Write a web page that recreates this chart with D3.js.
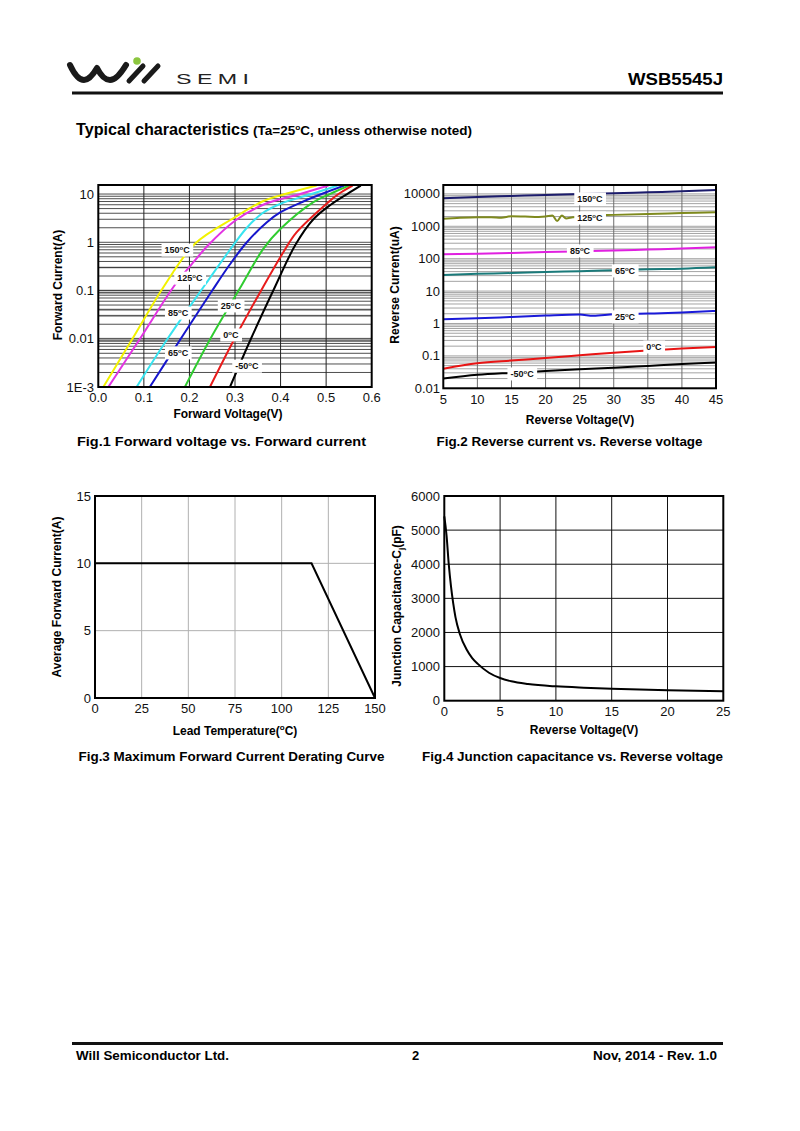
<!DOCTYPE html>
<html><head><meta charset="utf-8">
<script src="https://cdn.jsdelivr.net/npm/d3@7"></script>
<style>
body{margin:0;background:#fff;}
svg text{font-family:"Liberation Sans",Arial,Helvetica,sans-serif;}
</style></head><body>
<svg id="page" width="800" height="1131" xmlns="http://www.w3.org/2000/svg"></svg>
<script>
// ---------------- DATA ----------------
// Fig.1 Forward voltage (V) vs forward current (A)
const fwdLabels = ["150°C","125°C","85°C","65°C","25°C","0°C","-50°C"];
const fwdColors = ["#f2f200","#e234e2","#38e4f0","#1616cc","#30cc30","#e81c1c","#000000"];
const fwdV150 = [0.011,0.075,0.146,0.212,0.300,0.360,0.410,0.479];
const fwdI150 = [0.001,0.01,0.13,0.93,3.3,7.0,10,15];
const fwdV125 = [0.022,0.0915,0.168,0.212,0.240,0.300,0.362,0.443,0.505];
const fwdI125 = [0.001,0.01,0.13,0.42,0.85,2.8,6.0,10,15];
const fwdV85 = [0.084,0.152,0.234,0.289,0.326,0.360,0.400,0.468,0.525];
const fwdI85 = [0.001,0.01,0.13,0.7,2.0,4.0,6.3,10,15];
const fwdV65 = [0.113,0.181,0.250,0.289,0.326,0.370,0.400,0.450,0.490,0.540];
const fwdI65 = [0.001,0.01,0.1,0.35,1.0,2.6,4.2,7.0,10,15];
const fwdV25 = [0.190,0.246,0.315,0.362,0.400,0.472,0.508,0.550];
const fwdI25 = [0.001,0.01,0.13,0.73,1.9,6.8,10,15];
const fwdV0 = [0.245,0.299,0.362,0.406,0.435,0.505,0.527,0.558];
const fwdI0 = [0.001,0.01,0.12,0.62,1.6,6.8,10,15];
const fwdVm50 = [0.289,0.335,0.384,0.433,0.472,0.510,0.546,0.576];
const fwdIm50 = [0.001,0.01,0.1,0.9,3.0,6.0,10,15];
const fwdLabelV = [0.173,0.201,0.175,0.175,0.291,0.291,0.326];
const fwdLabelI = [0.69,0.18,0.034,0.0051,0.048,0.012,0.0027];
const fwdXTicks = [0.0,0.1,0.2,0.3,0.4,0.5,0.6];
const fwdXTickLabels = ["0.0","0.1","0.2","0.3","0.4","0.5","0.6"];
const fwdYTicks = [0.001,0.01,0.1,1,10];
const fwdYTickLabels = ["1E-3","0.01","0.1","1","10"];

// Fig.2 Reverse voltage (V) vs reverse current (uA)
const revLabels = ["150°C","125°C","85°C","65°C","25°C","0°C","-50°C"];
const revColors = ["#1c1c6c","#7f8a1e","#e020e0","#1a7a7a","#1a1ad8","#e81414","#000000"];
const revV = [5,10,15,20,25,30,35,40,45];
const revI150 = [7300,8000,8600,9300,9900,10400,11200,12000,13200];
const revV125 = [5,7,10,12,13.5,15,17,19,20,21,21.7,22.4,23,24,25,27,30,35,40,45];
const revI125 = [1700,1800,1900,1900,1850,2050,2000,1950,2000,2150,1450,2150,1750,1900,1950,2150,2250,2400,2550,2700];
const revI85 = [137,143,150,161,169,178,191,205,225];
const revI65 = [31.5,34,36,39,41,44,47,49,54];
const revV25 = [5,10,15,20,25,27,30,35,40,45];
const revI25 = [1.35,1.45,1.59,1.75,1.88,1.72,1.92,2.02,2.17,2.44];
const revI0 = [0.040,0.059,0.072,0.086,0.104,0.126,0.146,0.168,0.189];
const revIm50 = [0.020,0.026,0.030,0.034,0.039,0.043,0.049,0.056,0.062];
const revLabelV = [26.5,26.5,25.05,31.65,31.65,35.9,16.55];
const revLabelI = [7000,1800,174,42,1.6,0.188,0.0277];
const revXTicks = [5,10,15,20,25,30,35,40,45];
const revYTicks = [0.01,0.1,1,10,100,1000,10000];
const revYTickLabels = ["0.01","0.1","1","10","100","1000","10000"];

// Fig.3 Derating
const derT = [0,116,150];
const derI = [10,10,0];
const derXTicks = [0,25,50,75,100,125,150];
const derYTicks = [0,5,10,15];

// Fig.4 Junction capacitance
const capV = [0,0.2,0.4,0.6,0.8,1.0,1.4,2.0,2.5,3.0,4.0,5.0,6.0,7.5,10,12.5,15,20,25];
const capC = [5400,4850,4000,3350,2850,2450,1950,1500,1250,1080,820,665,570,490,420,380,350,305,275];
const capXTicks = [0,5,10,15,20,25];
const capYTicks = [0,1000,2000,3000,4000,5000,6000];

// ---------------- DRAW ----------------
const svg = d3.select("#page");
svg.append("rect").attr("width",800).attr("height",1131).attr("fill","#fff");

// Header
const logo = svg.append("g");
logo.append("path").attr("d","M70,65 Q77,80 84,80 Q90,80 97,68 Q103,80 110,80 Q117,80 126,65")
  .attr("fill","none").attr("stroke","#1a1a1a").attr("stroke-width",6).attr("stroke-linecap","round").attr("stroke-linejoin","round");
logo.append("line").attr("x1",129).attr("y1",81).attr("x2",143).attr("y2",66).attr("stroke","#1a1a1a").attr("stroke-width",5).attr("stroke-linecap","round");
logo.append("line").attr("x1",144).attr("y1",81).attr("x2",158).attr("y2",66).attr("stroke","#1a1a1a").attr("stroke-width",5).attr("stroke-linecap","round");
logo.append("circle").attr("cx",137).attr("cy",61).attr("r",3.8).attr("fill","#8cc63f");
svg.append("text").attr("transform","translate(176,84) scale(1.55,1)").attr("font-size",15).attr("fill","#222")
  .attr("letter-spacing",3.5).text("SEMI");
svg.append("text").attr("x",723).attr("y",85).attr("text-anchor","end").attr("font-size",17).attr("font-weight","bold")
  .attr("textLength",95).attr("lengthAdjust","spacingAndGlyphs").text("WSB5545J");
svg.append("rect").attr("x",72).attr("y",91.5).attr("width",651).attr("height",3).attr("fill","#111");

svg.append("text").attr("x",76).attr("y",135).attr("font-weight","bold").attr("font-size",16)
  .attr("textLength",173).attr("lengthAdjust","spacingAndGlyphs").text("Typical characteristics");
const tt = svg.append("text").attr("x",253).attr("y",135).attr("font-weight","bold").attr("font-size",13)
  .attr("textLength",219).attr("lengthAdjust","spacingAndGlyphs");
tt.append("tspan").text("(Ta=25");
tt.append("tspan").attr("font-size",8).attr("dy",-5).text("o");
tt.append("tspan").attr("dy",5).text("C, unless otherwise noted)");

// Footer
svg.append("rect").attr("x",72).attr("y",1042).attr("width",651).attr("height",3).attr("fill","#111");
svg.append("text").attr("x",76).attr("y",1060).attr("font-size",13).attr("font-weight","bold")
  .attr("textLength",153).attr("lengthAdjust","spacingAndGlyphs").text("Will Semiconductor Ltd.");
svg.append("text").attr("x",415.5).attr("y",1060).attr("text-anchor","middle").attr("font-size",13).attr("font-weight","bold").text("2");
svg.append("text").attr("x",717).attr("y",1060).attr("text-anchor","end").attr("font-size",13).attr("font-weight","bold")
  .attr("textLength",124).attr("lengthAdjust","spacingAndGlyphs").text("Nov, 2014 - Rev. 1.0");

let clipId = 0;
function makeClip(x0,y0,w,h){
  const id = "clip"+(clipId++);
  svg.append("clipPath").attr("id",id).append("rect").attr("x",x0).attr("y",y0).attr("width",w).attr("height",h);
  return "url(#"+id+")";
}
function tickText(g, x, y, txt, anchor){
  g.append("text").attr("x",x).attr("y",y).attr("font-size",13).attr("text-anchor",anchor).attr("fill","#111").text(txt);
}
function yTitle(x, y, txt){
  return svg.append("text").attr("transform",`translate(${x},${y}) rotate(-90)`).attr("text-anchor","middle")
    .attr("font-size",12).attr("font-weight","bold").text(txt);
}
function xTitle(x, y, txt){
  return svg.append("text").attr("x",x).attr("y",y).attr("text-anchor","middle").attr("font-size",12).attr("font-weight","bold").text(txt);
}
function caption(x, y, txt, w){
  svg.append("text").attr("x",x).attr("y",y).attr("text-anchor","middle").attr("font-size",13).attr("font-weight","bold")
    .attr("textLength",w).attr("lengthAdjust","spacingAndGlyphs").text(txt);
}
function addLabel(g, x, y, txt){
  const t = g.append("text").attr("x",x).attr("y",y+3).attr("text-anchor","middle").attr("font-size",9).attr("font-weight","bold").attr("fill","#111");
  const deg = txt.indexOf("°");
  t.append("tspan").text(txt.slice(0,deg));
  t.append("tspan").attr("font-size",6).attr("dy",-3).text("o");
  t.append("tspan").attr("dy",3).text(txt.slice(deg+1));
  const bb = t.node().getBBox();
  g.insert("rect", () => t.node()).attr("x",bb.x-3).attr("y",y-6.5).attr("width",bb.width+6).attr("height",13).attr("fill","#fff");
}
const smooth = d3.curveCatmullRom.alpha(0.5);

// ---------- Fig.1 ----------
{
  const x = d3.scaleLinear().domain([0,0.6]).range([98.3,371.7]);
  const y = d3.scaleLog().domain([0.001,15.4]).range([387,185]);
  const g = svg.append("g");
  const [x0,x1] = x.range(), [y1,y0] = y.range();
  const minors = [];
  for (let e=-3; e<=1; e++) for (let m=1; m<=9; m++){ const v=m*Math.pow(10,e); if (v<=15.4) minors.push(v); }
  const grayVals = [0.3,0.1,0.09,0.04,0.03,0.01,0.009];
  g.selectAll(".gy").data(grayVals).join("line").attr("x1",x0).attr("x2",x1)
    .attr("y1",d=>y(d)).attr("y2",d=>y(d)).attr("stroke","#b4b4b4").attr("stroke-width",2.2);
  g.selectAll(".hy").data(minors).join("line").attr("x1",x0).attr("x2",x1)
    .attr("y1",d=>y(d)).attr("y2",d=>y(d)).attr("stroke","#222").attr("stroke-width",0.8);
  g.selectAll(".vx").data(fwdXTicks.slice(1,-1)).join("line").attr("y1",y0).attr("y2",y1)
    .attr("x1",d=>x(d)).attr("x2",d=>x(d)).attr("stroke","#222").attr("stroke-width",1);
  const series = [[fwdV150,fwdI150],[fwdV125,fwdI125],[fwdV85,fwdI85],[fwdV65,fwdI65],[fwdV25,fwdI25],[fwdV0,fwdI0],[fwdVm50,fwdIm50]];
  const line = d3.line().x(d=>x(d[0])).y(d=>y(d[1])).curve(smooth);
  const cg = g.append("g").attr("clip-path", makeClip(x0,y0,x1-x0,y1-y0));
  series.forEach((s,i)=>{
    cg.append("path").attr("d", line(d3.zip(s[0],s[1]))).attr("fill","none").attr("stroke",fwdColors[i]).attr("stroke-width",2);
  });
  fwdLabels.forEach((l,i)=> addLabel(g, x(fwdLabelV[i]), y(fwdLabelI[i]), l));
  g.append("rect").attr("x",x0).attr("y",y0).attr("width",x1-x0).attr("height",y1-y0).attr("fill","none").attr("stroke","#000").attr("stroke-width",2);
  fwdXTicks.forEach((t,i)=> tickText(g, x(t), 402, fwdXTickLabels[i], "middle"));
  fwdYTicks.forEach((t,i)=> tickText(g, 94, y(t)+4.5, fwdYTickLabels[i], "end"));
  xTitle(228, 418, "Forward Voltage(V)");
  yTitle(62, 285, "Forward Current(A)");
  caption(221.5, 446, "Fig.1 Forward voltage vs. Forward current", 289);
}

// ---------- Fig.2 ----------
{
  const x = d3.scaleLinear().domain([5,45]).range([443.3,716]);
  const y = d3.scaleLog().domain([0.01,18800]).range([388.3,185]);
  const g = svg.append("g");
  const [x0,x1] = x.range(), [y1,y0] = y.range();
  const minors = [];
  for (let e=-2; e<=4; e++) for (let m=1; m<=9; m++){ const v=m*Math.pow(10,e); if (v<=18800) minors.push(v); }
  g.selectAll(".hy").data(minors).join("line").attr("x1",x0).attr("x2",x1)
    .attr("y1",d=>y(d)).attr("y2",d=>y(d)).attr("stroke","#9a9a9a").attr("stroke-width",0.9);
  g.selectAll(".vx").data(revXTicks.slice(1,-1)).join("line").attr("y1",y0).attr("y2",y1)
    .attr("x1",d=>x(d)).attr("x2",d=>x(d)).attr("stroke","#6e6e6e").attr("stroke-width",1);
  const series = [[revV,revI150],[revV125,revI125],[revV,revI85],[revV,revI65],[revV25,revI25],[revV,revI0],[revV,revIm50]];
  const line = d3.line().x(d=>x(d[0])).y(d=>y(d[1])).curve(d3.curveMonotoneX);
  const cg = g.append("g").attr("clip-path", makeClip(x0,y0,x1-x0,y1-y0));
  series.forEach((s,i)=>{
    cg.append("path").attr("d", line(d3.zip(s[0],s[1]))).attr("fill","none").attr("stroke",revColors[i]).attr("stroke-width",2);
  });
  revLabels.forEach((l,i)=> addLabel(g, x(revLabelV[i]), y(revLabelI[i]), l));
  g.append("rect").attr("x",x0).attr("y",y0).attr("width",x1-x0).attr("height",y1-y0).attr("fill","none").attr("stroke","#000").attr("stroke-width",2);
  revXTicks.forEach(t=> tickText(g, x(t), 404, String(t), "middle"));
  revYTicks.forEach((t,i)=> tickText(g, 440, y(t)+4.5, revYTickLabels[i], "end"));
  xTitle(580, 424, "Reverse Voltage(V)");
  yTitle(399, 285, "Reverse Current(uA)");
  caption(569.5, 446, "Fig.2 Reverse current vs. Reverse voltage", 266);
}

// ---------- Fig.3 ----------
{
  const x = d3.scaleLinear().domain([0,150]).range([95,375]);
  const y = d3.scaleLinear().domain([0,15]).range([698,496]);
  const g = svg.append("g");
  const [x0,x1] = x.range(), [y1,y0] = y.range();
  g.selectAll(".vx").data(derXTicks.slice(1,-1)).join("line").attr("y1",y0).attr("y2",y1)
    .attr("x1",d=>x(d)).attr("x2",d=>x(d)).attr("stroke","#b0b0b0").attr("stroke-width",1);
  g.selectAll(".hy").data(derYTicks.slice(1,-1)).join("line").attr("x1",x0).attr("x2",x1)
    .attr("y1",d=>y(d)).attr("y2",d=>y(d)).attr("stroke","#b0b0b0").attr("stroke-width",1);
  const line = d3.line().x(d=>x(d[0])).y(d=>y(d[1]));
  g.append("path").attr("d", line(d3.zip(derT,derI))).attr("fill","none").attr("stroke","#000").attr("stroke-width",2);
  g.append("rect").attr("x",x0).attr("y",y0).attr("width",x1-x0).attr("height",y1-y0).attr("fill","none").attr("stroke","#000").attr("stroke-width",2);
  derXTicks.forEach(t=> tickText(g, x(t), 713, String(t), "middle"));
  derYTicks.forEach(t=> tickText(g, 91, y(t)+4.5, String(t), "end"));
  const xt = xTitle(235, 735, "Lead Temperature(");
  xt.append("tspan").attr("font-size",8).attr("dy",-5).text("o");
  xt.append("tspan").attr("dy",5).text("C)");
  yTitle(61, 597, "Average Forward Current(A)");
  caption(231.5, 761, "Fig.3 Maximum Forward Current Derating Curve", 306);
}

// ---------- Fig.4 ----------
{
  const x = d3.scaleLinear().domain([0,25]).range([444.3,723.3]);
  const y = d3.scaleLinear().domain([0,6000]).range([700.7,496]);
  const g = svg.append("g");
  const [x0,x1] = x.range(), [y1,y0] = y.range();
  g.selectAll(".vx").data(capXTicks.slice(1,-1)).join("line").attr("y1",y0).attr("y2",y1)
    .attr("x1",d=>x(d)).attr("x2",d=>x(d)).attr("stroke","#111").attr("stroke-width",1);
  g.selectAll(".hy").data(capYTicks.slice(1,-1)).join("line").attr("x1",x0).attr("x2",x1)
    .attr("y1",d=>y(d)).attr("y2",d=>y(d)).attr("stroke","#111").attr("stroke-width",1);
  const line = d3.line().x(d=>x(d[0])).y(d=>y(d[1])).curve(d3.curveMonotoneX);
  g.append("path").attr("d", line(d3.zip(capV,capC))).attr("fill","none").attr("stroke","#000").attr("stroke-width",2);
  g.append("rect").attr("x",x0).attr("y",y0).attr("width",x1-x0).attr("height",y1-y0).attr("fill","none").attr("stroke","#000").attr("stroke-width",2);
  capXTicks.forEach(t=> tickText(g, x(t), 716, String(t), "middle"));
  capYTicks.forEach(t=> tickText(g, 440, y(t)+4.5, String(t), "end"));
  xTitle(584, 734, "Reverse Voltage(V)");
  const yt = yTitle(401, 606, "Junction Capacitance-C");
  yt.append("tspan").attr("font-size",8).attr("dy",3).text("j");
  yt.append("tspan").attr("dy",-3).text("(pF)");
  caption(572.5, 761, "Fig.4 Junction capacitance vs. Reverse voltage", 301);
}
</script>
</body></html>
